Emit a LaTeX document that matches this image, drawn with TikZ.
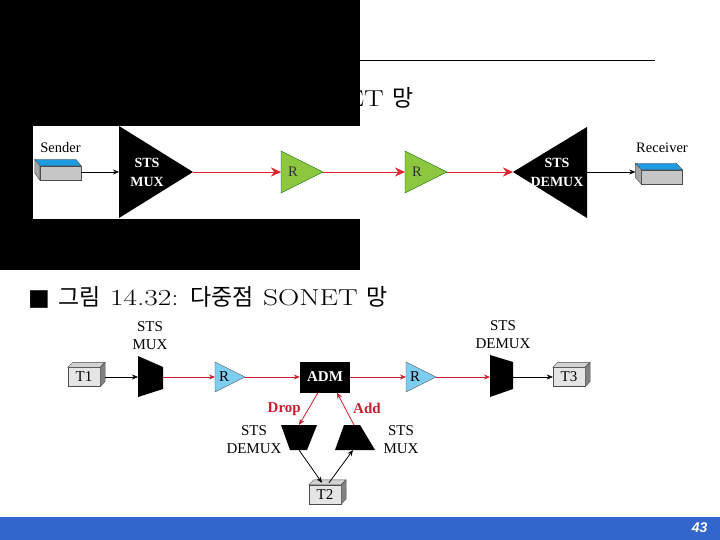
\documentclass[tikz,border=0pt]{standalone}
\usepackage{fontspec}
\newfontfamily\kr{Noto Sans CJK KR}
\newfontfamily\tms{Liberation Serif}
\newfontfamily\arl{Liberation Sans}
\newfontfamily\sym{DejaVu Sans}
\newfontfamily\ttl{Latin Modern Roman}[FakeStretch=1.28]
\usetikzlibrary{arrows.meta,positioning}
\definecolor{sonetred}{RGB}{226,38,48}
\definecolor{droprd}{RGB}{200,30,45}
\definecolor{repgreen}{RGB}{141,198,63}
\definecolor{repblue}{RGB}{125,205,240}
\definecolor{hostblue}{RGB}{30,155,225}
\definecolor{footblue}{RGB}{51,102,204}
\tikzset{
	lbl/.style={font=\tms\fontsize{14.5}{15}\selectfont, inner sep=0pt},
	ttltxt/.style={anchor=west, inner sep=0pt, font=\ttl\fontsize{23}{25}\selectfont},
	stslbl/.style={font=\tms\fontsize{15}{18}\selectfont, align=center, inner sep=0pt},
	muxtxt/.style={font=\tms\bfseries\fontsize{14}{19}\selectfont, text=white, align=center, inner sep=0pt},
	redline/.style={draw=sonetred, -{Stealth[length=10pt,width=9pt]}},
	redarrow/.style={draw=droprd, thick, -{Stealth[length=6pt,width=5pt]}},
	blkarrow/.style={draw=black, -{Stealth[length=6pt,width=5pt]}},
	tbox/.style={draw=black!70, fill=gray!20, minimum width=32pt, minimum height=19pt, inner sep=0pt, font=\tms\fontsize{15}{15}\selectfont},
	hostbox/.style={draw=black!70, fill=gray!45, minimum width=41pt, minimum height=14pt, inner sep=0pt}
}
\begin{document}
\begin{tikzpicture}[x=1pt,y=-1pt]
	\useasboundingbox (0,0) rectangle (720,540);
	
	% title remnant and rule
	\node[ttltxt, anchor=east] (title1) at (414,98) {ET {\kr 망}};
	\draw[thick] (360,60) -- (655,60);
	
	% redacted block
	\fill[black] (0,0) rectangle (360,270);
	\fill[white] (33,126) rectangle (700,219);
	
	% point-to-point network
	\foreach \name/\x/\y/\dx/\up/\txt in {sender/60.5/173/-5/13/Sender, receiver/662/177/-6/17/Receiver} {
		\node[hostbox] (\name) at (\x,\y) {};
		\fill[hostblue, draw=black!70] (\name.north west) -- ++(\dx,-6.5) -- ++(41,0) -- (\name.north east) -- cycle;
		\fill[gray!70, draw=black!70] (\name.north west) -- ++(\dx,-6.5) -- ++(0,14) -- (\name.south west) -- cycle;
		\node[lbl, above=\up pt of \name] (\name-lbl) {\txt};
	}
	
	% STS MUX and DEMUX
	\fill[black] (119,126) -- (119,218) -- (193,172) -- cycle;
	\coordinate (mux-in) at (119,172);
	\coordinate (mux-out) at (193,172);
	\node[muxtxt] (mux-txt) at (147,172) {STS\\MUX};
	\fill[black] (587,127) -- (587,218) -- (513,172) -- cycle;
	\coordinate (demux-in) at (513,172);
	\coordinate (demux-out) at (587,172);
	\node[muxtxt] (demux-txt) at (557,172) {STS\\DEMUX};
	
	% regenerators
	\foreach \name/\x in {r1/281, r2/405} {
		\filldraw[fill=repgreen, draw=black!60!green] (\x,151) -- (\x,193) -- (\x+42,172) -- cycle;
		\coordinate (\name-in) at (\x,172);
		\coordinate (\name-out) at (\x+42,172);
		\node[lbl, text=black!80] (\name-txt) at (\x+12,172) {R};
	}
	
	\draw[blkarrow] (sender.east |- mux-in) -- (mux-in);
	\draw[redline] (mux-out) -- (r1-in);
	\draw[redline] (r1-out) -- (r2-in);
	\draw[redline] (r2-out) -- (demux-in);
	\draw[blkarrow] (demux-out) -- ([xshift=-6pt]receiver.west |- demux-out);
	
	% second title
	\node[ttltxt] (title2) at (28,297) {{\sym ■} {\kr 그림} 14.32: {\kr 다중점} SONET {\kr 망}};
	
	% multipoint network: terminals
	\foreach \name/\x/\y in {T1/84/377, T3/569/377, T2/325/494.5} {
		\node[tbox] (\name) at (\x,\y) {\name};
		\fill[gray!35, draw=black!70] (\name.north west) -- ++(5,-5) -- ++(32,0) -- (\name.north east) -- cycle;
		\fill[gray, draw=black!70] (\name.north east) -- ++(5,-5) -- ++(0,19) -- (\name.south east) -- cycle;
	}
	
	% multiplexers
	\fill[black] (138,356) -- (163,367) -- (163,389) -- (138,397) -- cycle;
	\coordinate (mux1-in) at (138,377);
	\coordinate (mux1-out) at (163,377);
	\node[stslbl] (mux1-lbl) at (150,336) {STS\\MUX};
	\fill[black] (490,355) -- (513,362) -- (513,389) -- (490,397) -- cycle;
	\coordinate (demux1-in) at (490,377);
	\coordinate (demux1-out) at (513,377);
	\node[stslbl] (demux1-lbl) at (503,335) {STS\\DEMUX};
	\fill[black] (281,425) -- (317,425) -- (307,450) -- (290,450) -- cycle;
	\coordinate (demux2-top) at (299,425);
	\coordinate (demux2-bot) at (299,450);
	\node[stslbl] (demux2-lbl) at (254,440) {STS\\DEMUX};
	\fill[black] (344,425) -- (360,425) -- (375,450) -- (335,450) -- cycle;
	\coordinate (mux2-top) at (354,425);
	\coordinate (mux2-bot) at (353,450);
	\node[stslbl] (mux2-lbl) at (401,440) {STS\\MUX};
	
	% regenerators and ADM
	\foreach \name/\x in {r3/215, r4/406} {
		\filldraw[fill=repblue, draw=black!70] (\x,362) -- (\x,392) -- (\x+30,377) -- cycle;
		\coordinate (\name-in) at (\x,377);
		\coordinate (\name-out) at (\x+30,377);
		\node[lbl, font=\tms\fontsize{15}{15}\selectfont] (\name-txt) at (\x+9,377) {R};
	}
	\node[fill=black, minimum width=50pt, minimum height=31pt, inner sep=0pt, text=white, font=\tms\bfseries\fontsize{15}{15}\selectfont] (adm) at (325,377) {ADM};
	
	% links
	\draw[blkarrow] ([xshift=5pt]T1.east) -- (mux1-in);
	\draw[redarrow] (mux1-out) -- (r3-in);
	\draw[redarrow] (r3-out) -- (adm.west);
	\draw[redarrow] (adm.east) -- (r4-in);
	\draw[redarrow] (r4-out) -- (demux1-in);
	\draw[blkarrow] (demux1-out) -- (T3.west);
	\draw[redarrow] ([xshift=-7pt]adm.south) -- (demux2-top) node[midway, left=4pt, font=\tms\bfseries\fontsize{15}{15}\selectfont, text=droprd] (drop) {Drop};
	\draw[redarrow] (mux2-top) -- ([xshift=12pt]adm.south) node[midway, right=4pt, font=\tms\bfseries\fontsize{15}{15}\selectfont, text=droprd] (add) {Add};
	\draw[blkarrow, thick] (demux2-bot) -- ([xshift=-3pt,yshift=2pt]T2.north);
	\draw[blkarrow, thick] ([xshift=4pt,yshift=2pt]T2.north) -- (mux2-bot);
	
	% footer
	\fill[footblue] (0,517) rectangle (720,540);
	\node[anchor=east, text=white, font=\arl\bfseries\itshape\fontsize{14}{14}\selectfont] (page) at (711,528) {43};
\end{tikzpicture}
\end{document}
